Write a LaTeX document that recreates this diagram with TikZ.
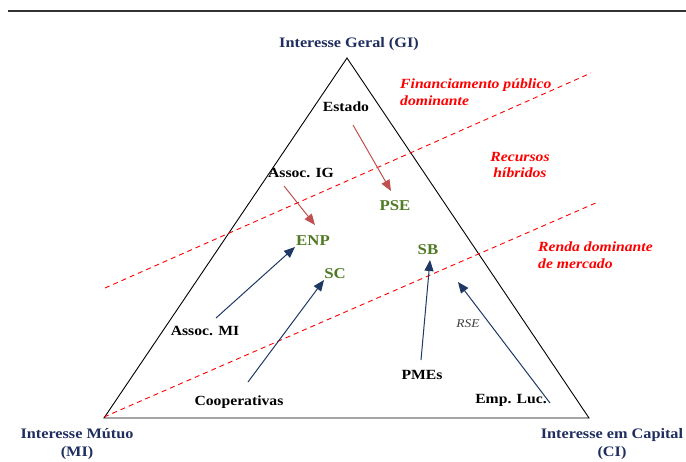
\documentclass[tikz,border=0pt]{standalone}
\usepackage{fontspec}
\setmainfont{Liberation Serif}[FakeStretch=1.12]
\usetikzlibrary{positioning,arrows.meta}

\definecolor{navy}{RGB}{31,45,95}
\definecolor{olive}{RGB}{79,122,35}
\definecolor{brick}{RGB}{192,80,77}
\definecolor{arrowblue}{RGB}{31,56,100}

\tikzset{
  pole/.style={text=navy,font=\bfseries\fontsize{14.5}{18}\selectfont,align=center},
  actor/.style={text=black,font=\bfseries\fontsize{14}{16}\selectfont},
  form/.style={text=olive,font=\bfseries\fontsize{15}{17}\selectfont},
  zone/.style={text=red,font=\bfseries\itshape\fontsize{14}{16.5}\selectfont},
  redarrow/.style={brick,line width=1pt,-{Triangle[length=11pt,width=9pt]}},
  bluearrow/.style={arrowblue,line width=1pt,-{Triangle[length=11pt,width=9pt]}},
  border/.style={red,dashed,line width=0.9pt,dash pattern=on 5pt off 4pt}
}

\begin{document}
\begin{tikzpicture}[x=1pt,y=-1pt,inner sep=0pt]
\useasboundingbox (0,0) rectangle (686,461);
\draw[line width=2.5pt,black!80] (8,11) -- (686,11);

\coordinate (GI) at (347,58);
\coordinate (MI) at (104,418);
\coordinate (CI) at (589,418);
\draw[line width=0.9pt] (GI) -- (MI) -- (CI) -- cycle;

% dashed borders between the zones
\coordinate (b1) at (105,288);
\coordinate (e1) at (591,73);
\coordinate (b2) at (104,417);
\coordinate (e2) at (598,202);
\draw[border] (b1) -- (e1);
\draw[border] (b2) -- (e2);

% poles
\node[pole] (gi) at (349,44) {Interesse Geral (GI)};
\node[pole] (mi) at (77,444) {Interesse Mútuo\\(MI)};
\node[pole] (ci) at (612,444) {Interesse em Capital\\(CI)};

% zones
\node[zone,align=left,anchor=west] (z1) at (400,92) {Financiamento público\\dominante};
\node[zone,align=center] (z2) at (520,165) {Recursos\\híbridos};
\node[zone,align=left,anchor=west] (z3) at (538,255) {Renda dominante\\de mercado};

% organisations
\node[actor] (estado) at (346,107) {Estado};
\node[actor] (aig) at (301,173) {Assoc. IG};
\node[actor] (ami) at (205,331) {Assoc. MI};
\node[actor] (coop) at (239,402) {Cooperativas};
\node[actor] (pme) at (422,375) {PMEs};
\node[actor] (emp) at (511,400) {Emp. Luc.};

\node[form] (pse) at (395,206) {PSE};
\node[form] (enp) at (313,241) {ENP};
\node[form] (sc) at (335,274) {SC};
\node[form] (sb) at (428,250) {SB};

\node[text=black!75,font=\itshape\fontsize{12}{14}\selectfont] (rse) at (468,324) {RSE};

% arrow ends
\coordinate (s1) at (353,125);
\coordinate (t1) at (391,191);
\coordinate (s2) at (284,186);
\coordinate (t2) at (315,225);
\coordinate (s3) at (216,318);
\coordinate (t3) at (295,247);
\coordinate (s4) at (248,382);
\coordinate (t4) at (324,280);
\coordinate (s5) at (421,360);
\coordinate (t5) at (430,260);
\coordinate (s6) at (550,403);
\coordinate (t6) at (458,282);

\draw[redarrow] (s1) -- (t1);
\draw[redarrow] (s2) -- (t2);
\draw[bluearrow] (s3) -- (t3);
\draw[bluearrow] (s4) -- (t4);
\draw[bluearrow] (s5) -- (t5);
\draw[bluearrow] (s6) -- (t6);
\end{tikzpicture}
\end{document}
